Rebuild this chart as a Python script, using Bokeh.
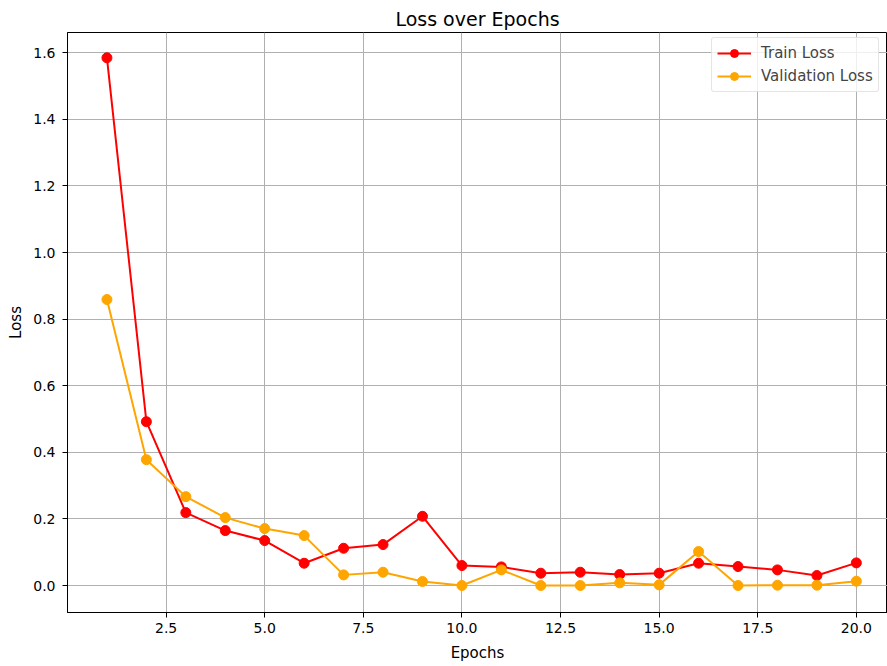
from bokeh.plotting import figure
from bokeh.models import Range1d, FixedTicker, PrintfTickFormatter, Legend, LegendItem
from bokeh.embed import file_html
from bokeh.resources import INLINE

epochs = list(range(1, 21))
train_loss = [1.585, 0.492, 0.219, 0.165, 0.135, 0.067, 0.112, 0.123, 0.208, 0.060,
              0.056, 0.037, 0.040, 0.033, 0.037, 0.067, 0.057, 0.047, 0.030, 0.068]
val_loss = [0.859, 0.378, 0.267, 0.204, 0.171, 0.150, 0.032, 0.040, 0.012, 0.0,
            0.047, 0.0, 0.0, 0.008, 0.002, 0.102, 0.0, 0.001, 0.001, 0.013]
x_ticks = [2.5, 5.0, 7.5, 10.0, 12.5, 15.0, 17.5, 20.0]
y_ticks = [0.0, 0.2, 0.4, 0.6, 0.8, 1.0, 1.2, 1.4, 1.6]

FONT = "DejaVu Sans"

p = figure(width=887, height=666, output_backend="svg", toolbar_location=None,
           x_range=Range1d(0.0, 20.79), y_range=Range1d(-0.081, 1.661),
           title="Loss over Epochs",
           min_border_left=67, min_border_right=0, min_border_top=32, min_border_bottom=54)

p.title.align = "center"
p.title.text_font = FONT
p.title.text_font_size = "19px"
p.title.text_font_style = "normal"
p.title.text_color = "black"
p.title.standoff = 6

p.outline_line_color = "black"
p.outline_line_width = 1
p.outline_line_alpha = 1

p.xaxis.ticker = FixedTicker(ticks=x_ticks)
p.yaxis.ticker = FixedTicker(ticks=y_ticks)
p.xaxis.formatter = PrintfTickFormatter(format="%.1f")
p.yaxis.formatter = PrintfTickFormatter(format="%.1f")
p.xaxis.axis_label = "Epochs"
p.yaxis.axis_label = "Loss"
for ax in (p.xaxis, p.yaxis):
    ax.axis_label_text_font = FONT
    ax.axis_label_text_font_size = "15px"
    ax.axis_label_text_font_style = "normal"
    ax.axis_label_text_color = "black"
    ax.major_label_text_font = FONT
    ax.major_label_text_font_size = "14px"
    ax.major_label_text_color = "black"
    ax.axis_line_color = "black"
    ax.major_tick_line_color = "black"
    ax.major_tick_out = 5
    ax.major_tick_in = 0
    ax.minor_tick_line_color = None
p.xaxis.major_label_standoff = 5
p.xaxis.axis_label_standoff = 8
p.yaxis.major_label_standoff = 7
p.yaxis.axis_label_standoff = 5

p.grid.grid_line_color = "#b0b0b0"
p.grid.grid_line_width = 1

r1 = p.line(epochs, train_loss, line_color="red", line_width=2)
s1 = p.scatter(epochs, train_loss, marker="circle", size=10, fill_color="red", line_color="red")
r2 = p.line(epochs, val_loss, line_color="orange", line_width=2)
s2 = p.scatter(epochs, val_loss, marker="circle", size=10, fill_color="orange", line_color="orange")

legend = Legend(items=[LegendItem(label="Train Loss", renderers=[r1, s1]),
                       LegendItem(label="Validation Loss", renderers=[r2, s2])],
                location=(644, 520))
legend.label_text_font = FONT
legend.label_text_font_size = "15px"
legend.border_line_color = "#cccccc"
legend.border_line_width = 1
legend.border_radius = 3
legend.background_fill_alpha = 0.8
legend.glyph_width = 34
legend.glyph_height = 20
legend.label_height = 20
legend.spacing = 3
legend.padding = 5
legend.margin = 0
legend.label_standoff = 10
p.add_layout(legend)

open("out.html", "w").write(file_html(p, INLINE))
